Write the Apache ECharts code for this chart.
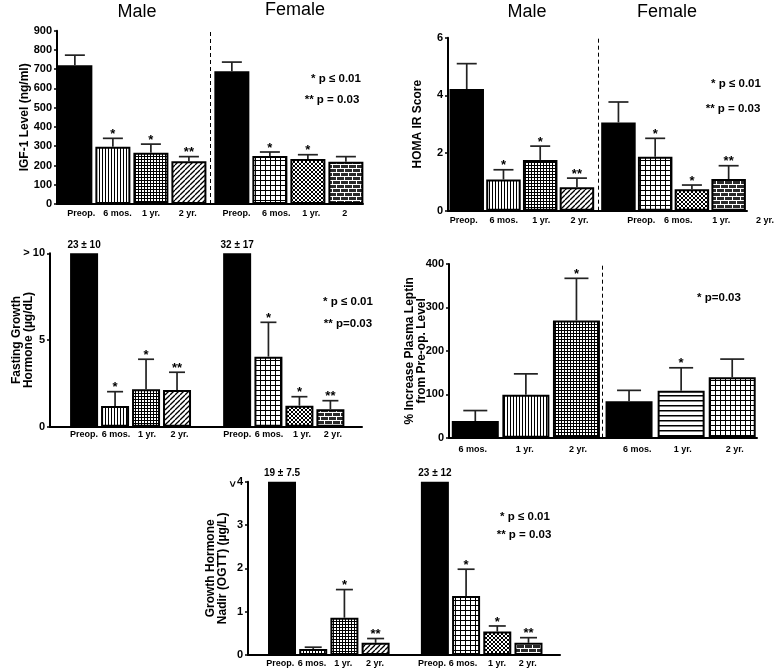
<!DOCTYPE html>
<html><head><meta charset="utf-8">
<script src="https://cdn.jsdelivr.net/npm/echarts@6/dist/echarts.min.js"></script>
<style>html,body{margin:0;padding:0;background:#fff}#c{width:777px;height:671px}</style>
</head><body><div id="c"></div>
<script>
// ---------- DATA ----------
// Panel A: IGF-1 level (ng/ml)
const igfLabels = ['Preop.', '6 mos.', '1 yr.', '2 yr.', 'Preop.', '6 mos.', '1 yr.', '2'];
const igfMean   = [720, 297, 266, 222, 689, 249, 234, 220];
const igfErr    = [53, 44, 45, 24, 48, 21, 22, 26];
const igfStars  = ['', '*', '*', '**', '', '*', '*', ''];
const igfTicks  = [0, 100, 200, 300, 400, 500, 600, 700, 800, 900];

// Panel B: HOMA IR score
const homaLabels = ['Preop.', '6 mos.', '1 yr.', '2 yr.', 'Preop.', '6 mos.', '1 yr.', '2 yr.'];
const homaMean   = [4.22, 1.08, 1.76, 0.81, 3.06, 1.87, 0.74, 1.10];
const homaErr    = [0.88, 0.34, 0.48, 0.32, 0.71, 0.64, 0.15, 0.46];
const homaStars  = ['', '*', '*', '**', '', '*', '*', '**'];
const homaTicks  = [0, 2, 4, 6];

// Panel C: Fasting growth hormone (µg/dL)
const fghLabels = ['Preop.', '6 mos.', '1 yr.', '2 yr.', 'Preop.', '6 mos.', '1 yr.', '2 yr.'];
const fghMean   = [10, 1.19, 2.16, 2.12, 10, 4.04, 1.21, 1.00];
const fghErr    = [0, 0.83, 1.73, 1.02, 0, 1.98, 0.52, 0.50];
const fghStars  = ['', '*', '*', '**', '', '*', '*', '**'];
const fghTop    = ['23 ± 10', '', '', '', '32 ± 17', '', '', ''];
const fghTicks  = [0, 5, 10];

// Panel D: % increase plasma leptin from pre-op level
const lepLabels = ['6 mos.', '1 yr.', '2 yr.', '6 mos.', '1 yr.', '2 yr.'];
const lepMean   = [38.5, 99, 270, 84, 108, 139];
const lepErr    = [24, 48, 97, 25, 53, 42];
const lepStars  = ['', '', '*', '', '*', ''];
const lepTicks  = [0, 100, 200, 300, 400];

// Panel E: Growth hormone nadir (OGTT) (µg/L)
const nadLabels = ['Preop.', '6 mos.', '1 yr.', '2 yr.', 'Preop.', '6 mos.', '1 yr.', '2 yr.'];
const nadMean   = [4, 0.14, 0.86, 0.28, 4, 1.36, 0.54, 0.28];
const nadErr    = [0, 0.04, 0.65, 0.10, 0, 0.62, 0.13, 0.12];
const nadStars  = ['', '', '*', '**', '', '*', '*', '**'];
const nadTop    = ['19 ± 7.5', '', '', '', '23 ± 12', '', '', ''];
const nadTicks  = [0, 1, 2, 3, 4];

// ---------- STYLE / LAYOUT ----------
const FONT = "'Liberation Sans', Arial, sans-serif";

function pattern(kind) {
  if (kind === 'solid') return '#000';
  const sizes = {vlines:[3,3], fine:[3,3], diag:[5,5], grid:[5,5], xhatch:[4,4], brick:[8,8], hlines:[5,5]};
  const [w, h] = sizes[kind];
  const c = document.createElement('canvas');
  c.width = w; c.height = h;
  const g = c.getContext('2d');
  g.fillStyle = '#fff'; g.fillRect(0, 0, w, h);
  g.fillStyle = '#000'; g.strokeStyle = '#000';
  if (kind === 'vlines') { g.fillRect(0, 0, 1, h); }
  else if (kind === 'fine') { g.fillRect(0, 0, 1, h); g.fillRect(0, 0, w, 1); }
  else if (kind === 'grid') { g.fillRect(0, 0, 1, h); g.fillRect(0, 0, w, 1); }
  else if (kind === 'hlines') { g.fillRect(0, 0, w, 1.5); }
  else if (kind === 'diag') {
    g.lineWidth = 1.3;
    for (const o of [-w, 0, w]) { g.beginPath(); g.moveTo(o, h); g.lineTo(o + w, 0); g.stroke(); }
  } else if (kind === 'xhatch') {
    g.lineWidth = 1;
    for (const o of [-w, 0, w]) {
      g.beginPath(); g.moveTo(o, h); g.lineTo(o + w, 0); g.stroke();
      g.beginPath(); g.moveTo(o, 0); g.lineTo(o + w, h); g.stroke();
    }
  } else if (kind === 'brick') {
    g.fillStyle = '#2a2a2a'; g.fillRect(0, 0, w, h);
    g.fillStyle = '#fff';
    g.fillRect(0, 0, w, 1); g.fillRect(0, 4, w, 1);
    g.fillRect(0, 0, 1, 4); g.fillRect(4, 4, 1, 4);
  }
  return {image: c, repeat: 'repeat'};
}

const fill8 = ['solid', 'vlines', 'fine', 'diag', 'solid', 'grid', 'xhatch', 'brick'];
const fill6 = ['solid', 'vlines', 'fine', 'solid', 'hlines', 'grid'];

const panels = [
  { grid:{left:57, top:30.7, width:306, height:173.3}, xMin:-0.47, xMax:7.58,
    pos:[0,1,2,3,4.13,5.13,6.13,7.13], labelPos:[0.17,1.12,2.0,2.97,4.25,5.3,6.22,7.1],
    labels:igfLabels, mean:igfMean, err:igfErr, stars:igfStars, ticks:igfTicks, fills:fill8,
    barWidth:35, cap:10, dash:3.55, yName:'IGF-1 Level (ng/ml)', nameGap:26, labelMargin:5 },
  { grid:{left:448, top:37.7, width:305, height:173}, xMin:-0.51, xMax:7.63,
    pos:[0,1,2,3,4.13,5.13,6.13,7.13], labelPos:[-0.08,1.01,2.03,3.07,4.75,5.76,6.93,8.11],
    labels:homaLabels, mean:homaMean, err:homaErr, stars:homaStars, ticks:homaTicks, fills:fill8,
    barWidth:34.5, cap:10, dash:3.57, yName:'HOMA IR Score', nameGap:24, labelMargin:5 },
  { grid:{left:50, top:253.3, width:312, height:173.4}, xMin:-1.10, xMax:8.97,
    pos:[0,1,2,3,4.94,5.95,6.95,7.95], labelPos:[0,1.03,2.03,3.08,4.94,5.97,7.03,8.03],
    labels:fghLabels, mean:fghMean, err:fghErr, stars:fghStars, ticks:fghTicks, fills:fill8, top:fghTop,
    barWidth:28, cap:8, yName:'Fasting Growth\nHormone (µg/dL)', nameGap:15.5, labelMargin:3,
    yFmt: v => v === 10 ? '> 10' : String(v) },
  { grid:{left:449, top:264, width:308, height:173.7}, xMin:-0.52, xMax:5.57,
    pos:[0,1,2,3.04,4.07,5.08], labelPos:[-0.05,0.98,2.03,3.2,4.1,5.13],
    labels:lepLabels, mean:lepMean, err:lepErr, stars:lepStars, ticks:lepTicks, fills:fill6,
    barWidth:47, cap:12, dash:2.52, yName:'% Increase Plasma Leptin\nfrom Pre-op. Level', nameGap:21, labelMargin:7 },
  { grid:{left:248, top:481.7, width:312, height:173.3}, xMin:-1.09, xMax:8.91,
    pos:[0,1,2,3,4.9,5.9,6.9,7.9], labelPos:[-0.06,0.96,1.96,2.98,4.81,5.8,6.89,7.88],
    labels:nadLabels, mean:nadMean, err:nadErr, stars:nadStars, ticks:nadTicks, fills:fill8, top:nadTop,
    barWidth:28, cap:8.5, yName:'Growth Hormone\nNadir (OGTT) (µg/L)', nameGap:19, labelMargin:4 }
];

const option = {animation:false, backgroundColor:'#fff', grid:[], xAxis:[], yAxis:[], series:[],
  textStyle:{fontFamily:FONT}};

panels.forEach((p, k) => {
  option.grid.push(Object.assign({containLabel:false}, p.grid));
  const pxPerUnit = p.grid.width / (p.xMax - p.xMin);
  const lp = p.labelPos.map(v => Math.min(v, p.xMax - 0.001));
  const rich = {};
  p.labelPos.forEach((v, i) => {
    const shift = (v - lp[i]) * pxPerUnit;
    rich['s' + i] = {fontSize:9, fontWeight:'bold', color:'#000', fontFamily:FONT,
      padding:[0, 0, 0, Math.max(0, 2 * shift)]};
  });
  option.xAxis.push({
    type:'value', gridIndex:k, min:p.xMin, max:p.xMax,
    axisLine:{show:true, onZero:false, lineStyle:{color:'#000', width:2}},
    axisTick:{show:false}, splitLine:{show:false},
    axisLabel:{customValues:lp, margin:p.labelMargin, fontSize:9, fontWeight:'bold', color:'#000', fontFamily:FONT,
      rich:rich,
      formatter:(v) => {
        let best = 0;
        lp.forEach((q, i) => { if (Math.abs(q - v) < Math.abs(lp[best] - v)) best = i; });
        return '{s' + best + '|' + p.labels[best] + '}';
      }}
  });
  const yMax = p.ticks[p.ticks.length - 1];
  option.yAxis.push({
    type:'value', gridIndex:k, min:0, max:yMax, interval:p.ticks[1] - p.ticks[0],
    name:p.yName, nameLocation:'middle', nameGap:p.nameGap, nameRotate:90, nameMoveOverlap:false,
    nameTextStyle:{fontSize:12, fontWeight:'bold', color:'#000', fontFamily:FONT, lineHeight:12, align:'center'},
    axisLine:{show:true, onZero:false, lineStyle:{color:'#000', width:2}},
    axisTick:{show:true, length:3, lineStyle:{color:'#000', width:1.5}},
    axisLabel:{fontSize:11, fontWeight:'bold', color:'#000', margin:5, fontFamily:FONT,
      formatter: p.yFmt || (v => String(v))},
    splitLine:{show:false}
  });
  const bar = {
    type:'bar', xAxisIndex:k, yAxisIndex:k, barWidth:p.barWidth, z:2,
    data:p.pos.map((x, i) => ({value:[x, p.mean[i]], itemStyle:{color:pattern(p.fills[i])}})),
    itemStyle:{borderColor:'#000', borderWidth:2},
    label:{show:!!p.top, position:'top', distance:3, fontSize:10, fontWeight:'bold', color:'#000', fontFamily:FONT,
      formatter: (q) => p.top ? p.top[q.dataIndex] : ''}
  };
  if (p.dash !== undefined) {
    bar.markLine = {symbol:'none', silent:true, label:{show:false},
      lineStyle:{type:[4, 3], color:'#000', width:1}, data:[{xAxis:p.dash}]};
  }
  option.series.push(bar);
  option.series.push({
    type:'custom', xAxisIndex:k, yAxisIndex:k, z:3, clip:false,
    data:p.pos.map((x, i) => [x, p.mean[i], p.err[i]]),
    encode:{x:0, y:1},
    renderItem:(params, api) => {
      const i = params.dataIndex;
      const x = api.value(0), m = api.value(1), e = api.value(2);
      const top = api.coord([x, m + e]);
      const base = api.coord([x, m]);
      const ch = [];
      const ls = {stroke:'#222', lineWidth:1.7};
      if (e > 0) {
        ch.push({type:'line', shape:{x1:top[0], y1:base[1], x2:top[0], y2:top[1]}, style:ls});
        ch.push({type:'line', shape:{x1:top[0] - p.cap, y1:top[1], x2:top[0] + p.cap, y2:top[1]}, style:ls});
      }
      const s = p.stars[i];
      if (s) ch.push({type:'text', x:top[0], y:top[1] - 4,
        style:{text:s, align:'center', verticalAlign:'middle', font:'bold 13px ' + FONT, fill:'#000'}});
      return {type:'group', children:ch};
    }
  });
});

function txt(x, y, text, font, rot) {
  return {type:'text', x:x, y:y, rotation:rot || 0, silent:true,
    style:{text:text, font:font, fill:'#000', align:'center', verticalAlign:'middle'}};
}
const T = '18px ' + FONT, A = 'bold 11.5px ' + FONT;
option.graphic = [
  txt(137, 12, 'Male', T), txt(295, 10, 'Female', T),
  txt(527, 12, 'Male', T), txt(667, 12, 'Female', T),
  txt(336, 79, '* p ≤ 0.01', A), txt(332, 100, '** p = 0.03', A),
  txt(736, 84, '* p ≤ 0.01', A), txt(733, 109, '** p = 0.03', A),
  txt(348, 302, '* p ≤ 0.01', A), txt(348, 324, '** p=0.03', A),
  txt(719, 298, '* p=0.03', A),
  txt(525, 517, '* p ≤ 0.01', A), txt(524, 535, '** p = 0.03', A),
  txt(232, 484, '>', 'bold 11px ' + FONT, -Math.PI / 2)
];

const chart = echarts.init(document.getElementById('c'), null, {renderer:'canvas'});
chart.setOption(option);
</script>
</body></html>
